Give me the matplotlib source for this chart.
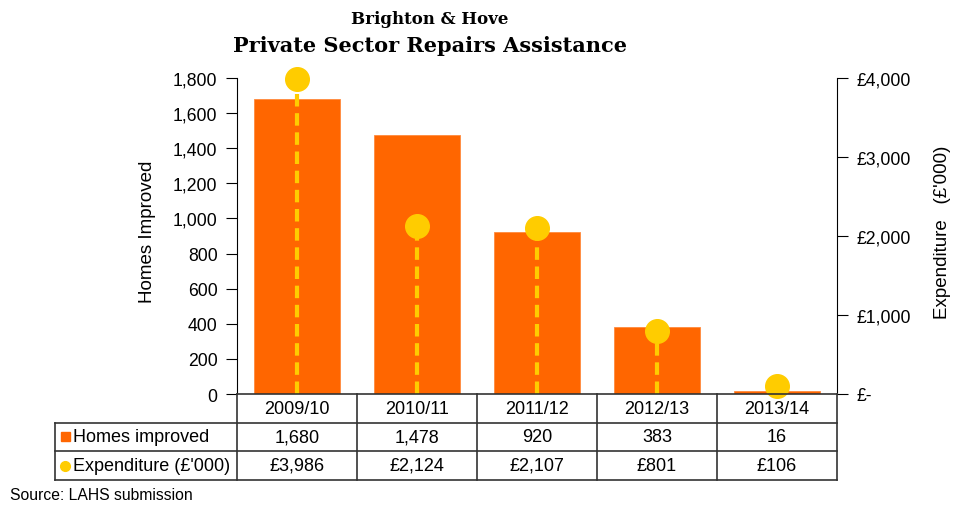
import numpy as np
import matplotlib
matplotlib.use("Agg")
from matplotlib import pyplot as plt
from matplotlib.lines import Line2D
from matplotlib.patches import Rectangle

years = ["2009/10", "2010/11", "2011/12", "2012/13", "2013/14"]
homes = [1680, 1478, 920, 383, 16]
spend = [3986, 2124, 2107, 801, 106]
homes_lbl = ["1,680", "1,478", "920", "383", "16"]
spend_lbl = ["£3,986", "£2,124", "£2,107", "£801", "£106"]

orange = "#FF6600"
yellow = "#FFCC00"

plt.rcParams["font.family"] = ["Liberation Sans", "DejaVu Sans"]

W, H = 954, 506
fig = plt.figure(figsize=(W / 100, H / 100), dpi=100)

def fx(px):
    return px / W

def fy(py):
    return 1 - py / H

L, R, T, B = 237, 837, 79, 395
ax = fig.add_axes([fx(L), fy(B), fx(R) - fx(L), fy(T) - fy(B)])
x = np.arange(len(years))
ax.bar(x, homes, width=0.72, color=orange, edgecolor="#FF8A3D", linewidth=0.6, zorder=2)
ax.set_xlim(-0.5, len(years) - 0.5)
ax.set_ylim(0, 1800)
ax.set_yticks(range(0, 1801, 200))
ax.set_yticklabels([f"{v:,}" for v in range(0, 1801, 200)])
ax.set_xticks([])
for s in ["top", "right", "bottom"]:
    ax.spines[s].set_visible(False)
ax.tick_params(axis="y", direction="out", length=8, labelsize=12.7, pad=6)

ax2 = ax.twinx()
ax2.set_ylim(0, 4000)
ax2.set_yticks(range(0, 4001, 1000))
ax2.set_yticklabels(["£-", "£1,000", "£2,000", "£3,000", "£4,000"])
for s in ["top", "left", "bottom"]:
    ax2.spines[s].set_visible(False)
ax2.tick_params(axis="y", direction="out", length=8, labelsize=12.7, pad=6)
ax2.vlines(x, 0, spend, colors=yellow, linestyles=(0, (3, 1.6)), linewidth=3, zorder=3)
ax2.plot(x, spend, "o", color=yellow, markersize=17, zorder=4, clip_on=False)

fig.text(fx(148), fy(232), "Homes Improved", rotation=90, ha="center", va="center", fontsize=13.5)
fig.text(fx(943), fy(232), "Expenditure   (£'000)", rotation=90, ha="center", va="center", fontsize=13.5)

# table below the plot
rows = [395, 423.5, 452, 481]
cols = [237 + 120 * i for i in range(6)]
lc = "#333333"
def hline(y, x0, x1):
    fig.add_artist(Line2D([fx(x0), fx(x1)], [fy(y), fy(y)], color=lc, lw=1.2))
def vline(xp, y0, y1):
    fig.add_artist(Line2D([fx(xp), fx(xp)], [fy(y0), fy(y1)], color=lc, lw=1.2))

hline(rows[0], cols[0], cols[-1])
for r in rows[1:]:
    hline(r, 55, cols[-1])
vline(55, rows[1], rows[3])
for c in cols:
    vline(c, rows[0], rows[3])

for i in range(len(years)):
    cx = fx(cols[i] + 60)
    fig.text(cx, fy((rows[0] + rows[1]) / 2), years[i], ha="center", va="center", fontsize=13)
    fig.text(cx, fy((rows[1] + rows[2]) / 2), homes_lbl[i], ha="center", va="center", fontsize=13)
    fig.text(cx, fy((rows[2] + rows[3]) / 2), spend_lbl[i], ha="center", va="center", fontsize=13)

fig.add_artist(Rectangle((fx(61), fy(442)), fx(9), fy(433) - fy(442), color=orange))
fig.add_artist(Line2D([fx(65)], [fy(466.5)], marker="o", color=yellow, markersize=7))
fig.text(fx(73), fy((rows[1] + rows[2]) / 2), "Homes improved", ha="left", va="center", fontsize=13)
fig.text(fx(73), fy((rows[2] + rows[3]) / 2), "Expenditure (£'000)", ha="left", va="center", fontsize=13)

fig.text(fx(10), fy(496), "Source: LAHS submission", ha="left", va="center", fontsize=11.3)

fig.text(fx(430), fy(20), "Brighton & Hove", ha="center", va="center",
         fontsize=12, fontweight="bold", family="DejaVu Serif")
fig.text(fx(430), fy(46), "Private Sector Repairs Assistance", ha="center", va="center",
         fontsize=15, fontweight="bold", family="DejaVu Serif")

fig.savefig("out.png", dpi=100)
